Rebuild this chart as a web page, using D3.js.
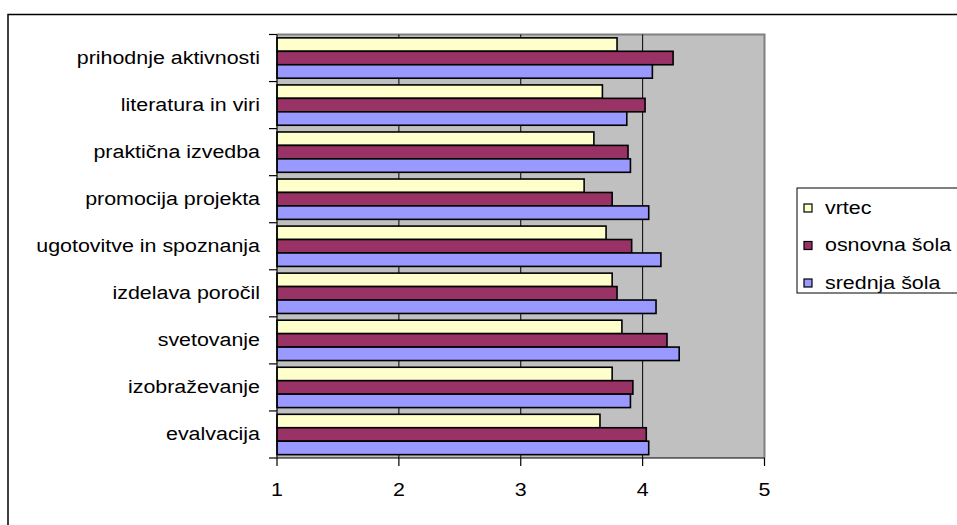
<!DOCTYPE html>
<html><head><meta charset="utf-8">
<script src="https://cdn.jsdelivr.net/npm/d3@7"></script>
<style>
html,body{margin:0;padding:0;background:#fff;}
svg{display:block;font-family:"Liberation Sans",Arial,sans-serif;}
</style></head>
<body>
<svg id="c" width="957" height="525"></svg>
<script>
const categories = ["prihodnje aktivnosti","literatura in viri","praktična izvedba","promocija projekta","ugotovitve in spoznanja","izdelava poročil","svetovanje","izobraževanje","evalvacija"];
const seriesNames = ["vrtec","osnovna šola","srednja šola"];
const vrtec =       [3.79, 3.67, 3.60, 3.52, 3.70, 3.75, 3.83, 3.75, 3.65];
const osnovnaSola = [4.25, 4.02, 3.88, 3.75, 3.91, 3.79, 4.20, 3.92, 4.03];
const srednjaSola = [4.08, 3.87, 3.90, 4.05, 4.15, 4.11, 4.30, 3.90, 4.05];
const xTicks = [1, 2, 3, 4, 5];
const colors = ["#FFFFCC", "#993366", "#9999FF"];

const series = [vrtec, osnovnaSola, srednjaSola];
const svg = d3.select("#c");
const SX = 1.19; // horizontal stretch of text
function stretch(sel, anchorX) {
  sel.attr("transform", `translate(${anchorX},0) scale(${SX},1) translate(${-anchorX},0)`);
}

// outer frame
svg.append("rect").attr("x", 8).attr("y", 14.5).attr("width", 1000).attr("height", 600)
  .attr("fill", "#fff").attr("stroke", "#000").attr("stroke-width", 1.5);

const L = 277, R = 764.5, T = 34.5, B = 458;
const x = d3.scaleLinear().domain([1, 5]).range([L, R]);
const y = d3.scaleBand().domain(categories).range([T, B]).paddingInner(0).paddingOuter(0);
const yInner = d3.scaleBand().domain(seriesNames).range([0, y.bandwidth()]).paddingInner(0).paddingOuter(0.25);

// plot bg
svg.append("rect").attr("x", L).attr("y", T).attr("width", R - L).attr("height", B - T)
  .attr("fill", "#C0C0C0");
svg.append("path").attr("d", `M${L},${T}H${R}V${B}`).attr("fill", "none")
  .attr("stroke", "#808080").attr("stroke-width", 2);

// gridlines
svg.append("g").selectAll("line").data(xTicks.slice(1, -1)).join("line")
  .attr("x1", d => x(d)).attr("x2", d => x(d)).attr("y1", T).attr("y2", B)
  .attr("stroke", "#000").attr("stroke-width", 1);

// bars
seriesNames.forEach((s, si) => {
  svg.append("g").selectAll("rect").data(categories).join("rect")
    .attr("x", x(1))
    .attr("y", (c) => y(c) + yInner(s))
    .attr("width", (c, i) => x(series[si][i]) - x(1))
    .attr("height", yInner.bandwidth())
    .attr("fill", colors[si]).attr("stroke", "#000").attr("stroke-width", 1.6);
});

// y axis
const yAxis = svg.append("g");
yAxis.append("line").attr("x1", L).attr("x2", L).attr("y1", T).attr("y2", B).attr("stroke", "#000").attr("stroke-width", 1.2);
const bounds = categories.map(c => y(c)).concat([B]);
yAxis.selectAll("line.t").data(bounds).join("line").attr("class", "t")
  .attr("x1", L - 8).attr("x2", L).attr("y1", d => d).attr("y2", d => d)
  .attr("stroke", "#000").attr("stroke-width", 1.2);
yAxis.selectAll("text").data(categories).join("text")
  .attr("x", 260).attr("y", c => y(c) + y.bandwidth() / 2 + 6)
  .attr("text-anchor", "end").attr("font-size", 18).attr("fill", "#000")
  .text(d => d).each(function () { stretch(d3.select(this), 260); });

// x axis
const xAxis = svg.append("g");
xAxis.append("line").attr("x1", L).attr("x2", R).attr("y1", B).attr("y2", B).attr("stroke", "#000").attr("stroke-width", 1.2);
xAxis.selectAll("line.t").data(xTicks).join("line").attr("class", "t")
  .attr("x1", d => x(d)).attr("x2", d => x(d)).attr("y1", B).attr("y2", B + 8)
  .attr("stroke", "#000").attr("stroke-width", 1.2);
xAxis.selectAll("text").data(xTicks).join("text")
  .attr("x", d => x(d)).attr("y", 496).attr("text-anchor", "middle")
  .attr("font-size", 18).attr("fill", "#000").text(d => d)
  .each(function (d) { stretch(d3.select(this), x(d)); });

// legend
const lg = svg.append("g");
lg.append("rect").attr("x", 797).attr("y", 188).attr("width", 170).attr("height", 105)
  .attr("fill", "#fff").attr("stroke", "#000").attr("stroke-width", 1);
const ly = d3.scalePoint().domain(seriesNames).range([208, 283]);
seriesNames.forEach((s, i) => {
  lg.append("rect").attr("x", 804).attr("y", ly(s) - 4).attr("width", 8).attr("height", 8)
    .attr("fill", colors[i]).attr("stroke", "#000").attr("stroke-width", 1.2);
  lg.append("text").attr("x", 825).attr("y", ly(s) + 6).attr("font-size", 18).attr("fill", "#000")
    .text(s).call(t => stretch(t, 825));
});
</script>
</body></html>
